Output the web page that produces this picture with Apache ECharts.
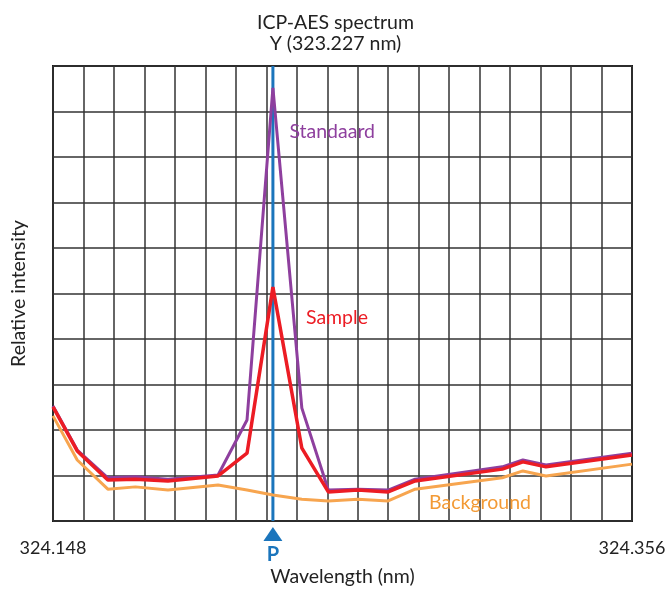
<!DOCTYPE html>
<html>
<head>
<meta charset="utf-8">
<title>ICP-AES spectrum</title>
<script src="https://cdn.jsdelivr.net/npm/echarts@6/dist/echarts.min.js"></script>
<style>
  html, body { margin: 0; padding: 0; background: #fff; }
  #chart { width: 671px; height: 590px; }
</style>
</head>
<body>
<div id="chart"></div>
<script>
// wavelengths (nm) of the measured points
const wavelength = [324.148, 324.1567, 324.1677, 324.1776, 324.1893, 324.2073, 324.2177, 324.227,
  324.2374, 324.2469, 324.2575, 324.2684, 324.2781, 324.3094, 324.3168, 324.3251, 324.356]
// relative intensity (grid units)
const standaard = [2.53, 1.56, 0.95, 0.97, 0.92, 1.01, 2.22, 9.52, 2.48, 0.68, 0.70, 0.68, 0.92, 1.19, 1.34, 1.23, 1.49]
const sample = [2.51, 1.54, 0.90, 0.92, 0.88, 0.99, 1.49, 5.14, 1.60, 0.64, 0.68, 0.64, 0.88, 1.14, 1.30, 1.19, 1.45]
const background = [2.31, 1.34, 0.70, 0.75, 0.68, 0.79, 0.68, 0.57, 0.48, 0.44, 0.48, 0.44, 0.70, 0.95, 1.10, 0.99, 1.25]

const xMin = 324.148
const xMax = 324.356
const peak = 324.227

const FONT = 'Lato'
const colors = { standaard: '#8E3F9E', sample: '#EC1C24', background: '#F7A54F', peak: '#1B75BC' }

const pairs = arr => arr.map((v, i) => [wavelength[i], v])

// text label next to a curve
const curveLabel = (text, x, y, color) => ({
  coord: [x, y],
  symbolSize: 0,
  label: { show: true, formatter: text, color, fontFamily: FONT, fontSize: 19.5, position: 'inside' }
})

const chart = echarts.init(document.getElementById('chart'))

chart.setOption({
  animation: false,
  title: {
    text: 'ICP-AES spectrum\nY (323.227 nm)',
    left: 'center',
    top: 7,
    textStyle: { fontFamily: FONT, fontSize: 19.5, fontWeight: 'normal', color: '#222', lineHeight: 21 }
  },
  grid: {
    left: 53,
    top: 66,
    right: 39,
    bottom: 69,
    outerBoundsMode: 'none',
    containLabel: false,
    show: true,
    borderColor: '#1a1a1a',
    borderWidth: 2
  },
  xAxis: [
    {
      type: 'value',
      min: xMin,
      max: xMax,
      name: 'Wavelength (nm)',
      nameLocation: 'middle',
      nameGap: 46,
      nameTextStyle: { fontFamily: FONT, fontSize: 19.5, color: '#222' },
      axisLine: { show: false },
      axisTick: { show: false },
      splitLine: { show: false },
      axisLabel: {
        margin: 18,
        fontFamily: FONT,
        fontSize: 18,
        color: '#222',
        showMinLabel: true,
        showMaxLabel: true,
        formatter: v => (Math.abs(v - xMin) < 1e-6 || Math.abs(v - xMax) < 1e-6) ? v.toFixed(3) : ''
      }
    },
    {
      // grid columns
      type: 'value',
      min: 0,
      max: 19,
      interval: 1,
      show: true,
      axisLine: { show: false },
      axisTick: { show: false },
      axisLabel: { show: false },
      splitLine: { show: true, lineStyle: { color: '#333', width: 1.5 } }
    }
  ],
  yAxis: {
    type: 'value',
    min: 0,
    max: 10,
    interval: 1,
    name: 'Relative intensity',
    nameLocation: 'middle',
    nameGap: 24,
    nameTextStyle: { fontFamily: FONT, fontSize: 19.5, color: '#222' },
    axisLine: { show: false },
    axisTick: { show: false },
    axisLabel: { show: false },
    splitLine: { show: true, lineStyle: { color: '#333', width: 1.5 } }
  },
  series: [
    {
      // peak position
      name: 'Peak',
      type: 'line',
      data: [[peak, 0], [peak, 10]],
      symbol: 'none',
      lineStyle: { color: colors.peak, width: 3 },
      z: 2
    },
    {
      name: 'Background',
      type: 'line',
      data: pairs(background),
      symbol: 'none',
      lineStyle: { color: colors.background, width: 3 },
      z: 3,
      markPoint: { data: [curveLabel('Background', 324.3014, 0.40, '#F39A35')] }
    },
    {
      name: 'Standaard',
      type: 'line',
      data: pairs(standaard),
      symbol: 'none',
      lineStyle: { color: colors.standaard, width: 3 },
      z: 4,
      markPoint: { data: [curveLabel('Standaard', 324.2483, 8.55, colors.standaard)] }
    },
    {
      name: 'Sample',
      type: 'line',
      data: pairs(sample),
      symbol: 'none',
      lineStyle: { color: colors.sample, width: 3.5 },
      z: 5,
      markPoint: { data: [curveLabel('Sample', 324.250, 4.46, colors.sample)] }
    }
  ]
})

// peak marker below the axis: triangle and "P"
const [px, py] = chart.convertToPixel({ xAxisIndex: 0, yAxisIndex: 0 }, [peak, 0])
chart.setOption({
  graphic: [
    {
      type: 'polygon',
      shape: { points: [[px, py + 6], [px - 9.5, py + 20], [px + 9.5, py + 20]] },
      style: { fill: colors.peak }
    },
    {
      type: 'text',
      x: px,
      y: py + 34,
      style: {
        text: 'P',
        fill: colors.peak,
        font: 'bold 20px ' + FONT,
        textAlign: 'center',
        textVerticalAlign: 'middle'
      }
    }
  ]
})
</script>
</body>
</html>
